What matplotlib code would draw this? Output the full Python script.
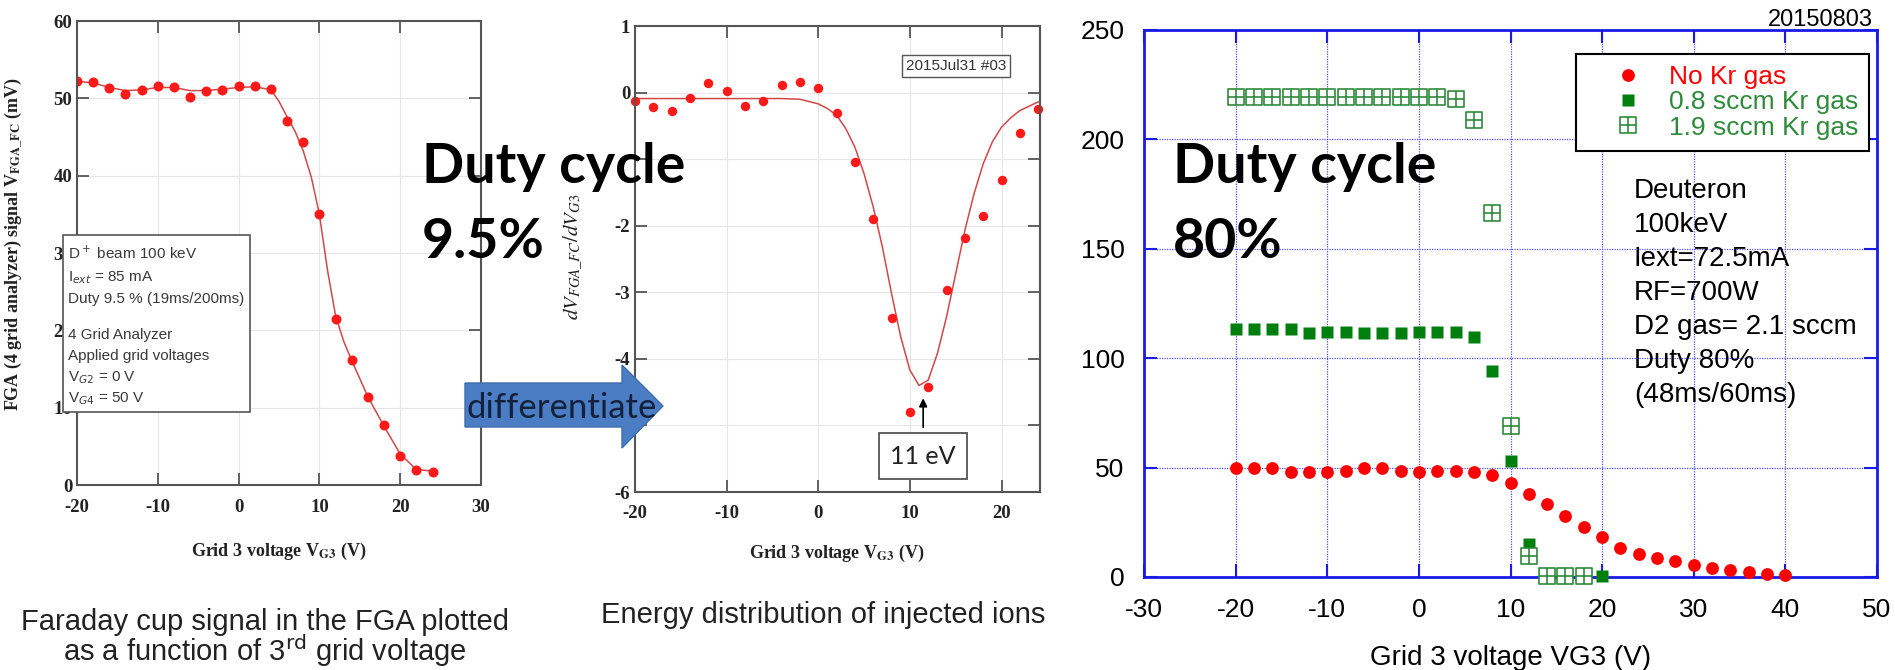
import matplotlib
matplotlib.use('Agg')
import matplotlib.pyplot as plt
from matplotlib.patches import Rectangle, Polygon
from matplotlib.path import Path
from matplotlib import font_manager

plt.rcParams['axes.unicode_minus'] = False

W, H = 1895, 670

# left panel: Faraday cup signal (duty 9.5 %)
vg3_a = [-20, -18, -16, -14, -12, -10, -8, -6, -4, -2, 0, 2, 4, 6, 8, 10, 12, 14, 16, 18, 20, 22, 24]
fc_mv = [52.2, 52.1, 51.3, 50.5, 51.1, 51.6, 51.5, 50.2, 51.0, 51.1, 51.6, 51.6, 51.2,
         47.1, 44.4, 35.0, 21.5, 16.2, 11.4, 7.7, 3.7, 2.0, 1.7]
fit_a_x = [-20, -18, -16, -14, -12, -10, -8, -6, -4, -2, 0, 2, 4, 5, 6, 7, 8, 9, 10, 11, 12, 13, 14,
           16, 18, 20, 22, 24]
fit_a_y = [52.2, 52.0, 51.4, 51.0, 51.1, 51.4, 51.4, 51.0, 51.0, 51.2, 51.4, 51.5, 51.1, 49.6, 47.6,
           45.7, 43.2, 39.8, 35.0, 27.8, 21.9, 18.6, 16.1, 11.4, 7.6, 4.0, 2.0, 1.8]

# middle panel: derivative (energy distribution)
vg3_b = [-20, -18, -16, -14, -12, -10, -8, -6, -4, -2, 0, 2, 4, 6, 8, 10, 12, 14, 16, 18, 20, 22, 24]
dv_b = [-0.13, -0.22, -0.27, -0.08, 0.14, 0.03, -0.20, -0.12, 0.11, 0.16, 0.07, -0.31, -1.04,
        -1.90, -3.38, -4.80, -4.43, -2.97, -2.18, -1.86, -1.32, -0.61, -0.24]
fit_b_x = [-20, -10, -4, -2, 0, 1, 2, 3, 4, 5, 6, 7, 8, 9, 10, 11, 12, 13, 14, 15, 16, 17, 18, 19,
           20, 21, 22, 24]
fit_b_y = [-0.09, -0.09, -0.09, -0.10, -0.17, -0.24, -0.34, -0.54, -0.82, -1.22, -1.72, -2.32,
           -3.02, -3.67, -4.17, -4.40, -4.32, -3.92, -3.37, -2.72, -2.07, -1.52, -1.07, -0.74,
           -0.52, -0.38, -0.27, -0.14]
# -1 and -5 are hidden under the slide's text and arrow
yticklabels_b = ['-6', '', '-4', '-3', '-2', '', '0', '1']

# right panel: duty 80 %
vg3_c = list(range(-20, 42, 2))
no_kr = [49.7, 49.7, 49.7, 47.8, 47.8, 47.8, 48.6, 49.7, 49.7, 48.3, 47.8, 48.6, 48.6, 47.8,
         46.6, 42.9, 38.0, 33.5, 28.0, 22.8, 18.5, 13.4, 10.3, 8.5, 7.2, 5.4, 4.2, 3.4, 2.2, 1.5, 0.8]
kr08_x = [-20, -18, -16, -14, -12, -10, -8, -6, -4, -2, 0, 2, 4, 6, 8, 10, 12, 14, 20]
kr08 = [113.3, 113.3, 113.3, 113.3, 111.7, 111.9, 111.9, 111.7, 111.7, 111.7, 111.9, 111.9,
        111.9, 109.8, 94.1, 53.2, 14.9, 1.5, 0.3]
kr19_x = [-20, -18, -16, -14, -12, -10, -8, -6, -4, -2, 0, 2, 4, 6, 8, 10, 12, 14, 16, 18]
kr19 = [219.5, 219.5, 219.5, 219.5, 219.5, 219.5, 219.5, 219.5, 219.5, 219.5, 219.5, 219.5,
        218.4, 208.8, 166.2, 69.1, 9.7, 0.3, 0.3, 0.3]
legend_labels = ['No Kr gas', '0.8 sccm Kr gas', '1.9 sccm Kr gas']
cond_lines = ['Deuteron', '100keV', 'Iext=72.5mA', 'RF=700W', 'D2 gas= 2.1 sccm', 'Duty 80%',
              '(48ms/60ms)']
inset_lines = ['D$^+$ beam 100 keV', 'I$_{ext}$ = 85 mA', 'Duty 9.5 % (19ms/200ms)',
               '4 Grid Analyzer', 'Applied grid voltages', 'V$_{G2}$ = 0 V', 'V$_{G4}$ = 50 V']

names = {f.name for f in font_manager.fontManager.ttflist}
narrow = 'Liberation Sans Narrow' in names
cap_family = 'Liberation Sans Narrow' if narrow else 'Liberation Sans'
cap_size = 25 if narrow else 21

fig = plt.figure(figsize=(W / 100, H / 100), dpi=100)


def ax_px(l, t, r, b):
    return fig.add_axes([l / W, 1 - b / H, (r - l) / W, (b - t) / H])


ax1 = ax_px(77, 21, 481, 485)
ax2 = ax_px(635, 26, 1040, 492)
ax3 = ax_px(1144, 30, 1877, 577)

# panels from the paper
ax1.set_xlim(-20, 30)
ax1.set_ylim(0, 60)
ax1.set_xticks(range(-20, 31, 10))
ax1.set_yticks(range(0, 61, 10))
ax2.set_xlim(-20, 24.2)
ax2.set_ylim(-6, 1)
ax2.set_xticks(range(-20, 21, 10))
ax2.set_yticks(range(-6, 2))
ax2.set_yticklabels(yticklabels_b)
for ax in (ax1, ax2):
    for s in ax.spines.values():
        s.set_color('#555555')
        s.set_linewidth(1.5)
    ax.tick_params(direction='in', length=8.5, width=1.3, color='#555555', top=True, right=True,
                   labelsize=13.5, labelcolor='#222222')
    ax.tick_params(axis='y', pad=3.5)
    ax.grid(True, color='#e6e6e6', lw=0.8)
    ax.set_axisbelow(True)
    for lab in ax.get_xticklabels() + ax.get_yticklabels():
        lab.set_fontfamily('Liberation Serif')
        lab.set_fontweight('bold')
ax1.tick_params(axis='x', pad=10)
ax2.tick_params(axis='x', pad=9)

ax1.plot(fit_a_x, fit_a_y, color='#d24848', lw=1.1)
ax1.plot(vg3_a, fc_mv, 'o', color='#ff1a1a', ms=7.2, mec='none')
ax2.plot(fit_b_x, fit_b_y, color='#d24848', lw=1.1)
ax2.plot(vg3_b, dv_b, 'o', color='#ff1a1a', ms=6.8, mec='none', clip_on=False)

ax2.text(0.793, 0.914, '2015Jul31 #03', transform=ax2.transAxes, ha='center', va='center',
         fontsize=11, family='Liberation Sans', color='#333333',
         bbox=dict(boxstyle='square,pad=0.25', fc='white', ec='#555555', lw=1))
ax2.annotate('', xy=(11.45, -4.55), xytext=(11.45, -5.07),
             arrowprops=dict(arrowstyle='-|>', color='black', lw=1.2, mutation_scale=12))
ax2.text(11.43, -5.46, '11 eV', ha='center', va='center', fontsize=18, family='Lato',
         color='#222222', bbox=dict(boxstyle='square,pad=0.45', fc='white', ec='#555555', lw=1.3))

# right panel
blue = '#1a1ae6'
ax3.set_xlim(-30, 50)
ax3.set_ylim(0, 250)
ax3.set_xticks(range(-30, 51, 10))
ax3.set_yticks(range(0, 251, 50))
for s in ax3.spines.values():
    s.set_color(blue)
    s.set_linewidth(2)
ax3.tick_params(direction='in', length=9.5, width=1.5, color=blue, top=True, right=True,
                labelsize=19, labelcolor='black')
ax3.tick_params(axis='x', pad=15)
ax3.tick_params(axis='y', pad=14)
for lab in ax3.get_xticklabels() + ax3.get_yticklabels():
    lab.set_fontfamily('Liberation Sans')
ax3.grid(True, color='#5050ff', lw=0.9, ls=(0, (1, 1)))
ax3.set_axisbelow(True)

sq_cross = Path([(-1, -1), (1, -1), (1, 1), (-1, 1), (-1, -1), (0, -1), (0, 1), (-1, 0), (1, 0)],
                [Path.MOVETO, Path.LINETO, Path.LINETO, Path.LINETO, Path.CLOSEPOLY,
                 Path.MOVETO, Path.LINETO, Path.MOVETO, Path.LINETO])
h_red, = ax3.plot(vg3_c, no_kr, 'o', color='#ff0000', ms=9.2, mec='none', clip_on=False, zorder=3)
h_08, = ax3.plot(kr08_x, kr08, 's', color='#007f0e', ms=8.7, mec='none', clip_on=False, zorder=3)
h_19, = ax3.plot(kr19_x, kr19, marker=sq_cross, ls='none', ms=12, mfc='white', mec='#2f8a3c',
                 mew=1.2, clip_on=False, zorder=4)

leg = ax3.legend([h_red, h_08, h_19], legend_labels, loc='upper left',
                 bbox_to_anchor=(1576 / W, 1 - 54 / H), bbox_transform=fig.transFigure,
                 prop={'family': 'Liberation Sans', 'size': 19}, borderpad=0.42,
                 handlelength=3.1, handletextpad=0.0, labelspacing=0.05, fancybox=False,
                 framealpha=1, edgecolor='black', borderaxespad=0)
leg.get_frame().set_linewidth(1.5)
for t, c in zip(leg.get_texts(), ['#ff0000', '#2e8b3a', '#2e8b3a']):
    t.set_color(c)

# overlay in pixel coordinates for the slide annotations
ov = fig.add_axes([0, 0, 1, 1])
ov.set_xlim(0, W)
ov.set_ylim(H, 0)
ov.axis('off')
ov.set_zorder(10)

ov.add_patch(Rectangle((63, 235), 187, 177, fc='white', ec='#555555', lw=1.2))
for line, yb in zip(inset_lines, [259, 281, 303, 339, 360, 381, 402]):
    ov.text(68, yb, line, ha='left', va='baseline', fontsize=11, family='Liberation Sans',
            color='#3a3a3a', math_fontfamily='dejavusans')

for xl in (422, 1173):
    ov.text(xl, 183, 'Duty cycle', ha='left', va='baseline', fontsize=40, family='Lato',
            weight='bold', color='black')
ov.text(422, 258, '9.5%', ha='left', va='baseline', fontsize=40, family='Lato', weight='bold',
        color='black')
ov.text(1173, 258, '80%', ha='left', va='baseline', fontsize=40, family='Lato', weight='bold',
        color='black')

ov.add_patch(Polygon([(465, 383), (622, 383), (622, 365), (663, 406), (622, 448), (622, 427),
                      (465, 427)], closed=True, fc='#4a7dc4', ec='#3d6cae', lw=1))
ov.text(466, 418, 'differentiate', ha='left', va='baseline', fontsize=25, family='Lato',
        color='#14213d')

# axis labels of the paper panels
ov.text(13, 244, 'FGA (4 grid analyzer) signal V$_{\\mathbf{FGA\\_FC}}$ (mV)', rotation=90,
        ha='center', va='center', fontsize=13, family='Liberation Serif', weight='bold',
        color='#222222', math_fontfamily='stix')
ov.text(573, 257, '$dV_{FGA\\_FC}/dV_{G3}$', rotation=90, ha='center', va='center', fontsize=15,
        color='#222222', math_fontfamily='stix')
ov.text(279, 556, 'Grid 3 voltage V$_{\\mathbf{G3}}$ (V)', ha='center', va='baseline',
        fontsize=13, family='Liberation Serif', weight='bold', color='#222222',
        math_fontfamily='stix')
ov.text(837, 558, 'Grid 3 voltage V$_{\\mathbf{G3}}$ (V)', ha='center', va='baseline',
        fontsize=13, family='Liberation Serif', weight='bold', color='#222222',
        math_fontfamily='stix')

# captions
ov.text(265, 630, 'Faraday cup signal in the FGA plotted', ha='center', va='baseline',
        fontsize=cap_size, family=cap_family, color='#222222')
ov.text(265, 661, 'as a function of 3$^{\\rm rd}$ grid voltage', ha='center', va='baseline',
        fontsize=cap_size, family=cap_family, color='#222222', math_fontfamily='dejavusans')
ov.text(823, 623, 'Energy distribution of injected ions', ha='center', va='baseline',
        fontsize=cap_size, family=cap_family, color='#222222')

# right panel texts
ov.text(1873, 26, '20150803', ha='right', va='baseline', fontsize=17, family='Liberation Sans',
        color='black')
for line, yb in zip(cond_lines, [198, 232, 266, 300, 334, 368, 402]):
    ov.text(1634, yb, line, ha='left', va='baseline', fontsize=20, family='Liberation Sans',
            color='black')
ov.text(1511, 665, 'Grid 3 voltage VG3 (V)', ha='center', va='baseline', fontsize=20,
        family='Liberation Sans', color='black')

fig.savefig('out.png', dpi=100)
